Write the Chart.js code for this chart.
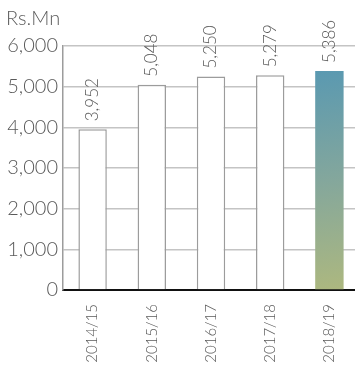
<!DOCTYPE html>
<html>
<head>
<meta charset="utf-8">
<script src="https://cdn.jsdelivr.net/npm/chart.js@4"></script>
<style>
  html, body { margin: 0; padding: 0; background: #fff; overflow: hidden; }
  #wrap { width: 360px; height: 365px; }
</style>
</head>
<body>
<div id="wrap"><canvas id="Revenue"></canvas></div>
<script>
const years = ['2014/15', '2015/16', '2016/17', '2017/18', '2018/19']
const values = [3952, 5048, 5250, 5279, 5386]
const yTicks = [0, 1000, 2000, 3000, 4000, 5000, 6000]
const unitLabel = 'Rs.Mn'

const FONT = 'Lato'
const TEXT = '#5a5a5a'

function barFill(context) {
    const i = context.dataIndex
    if (i !== values.length - 1) return '#ffffff'
    const chart = context.chart
    const sx = chart.scales.x, sy = chart.scales.y
    if (!sx || !sy || !chart.chartArea) return '#7fa8a0'
    const cx = sx.getPixelForValue(i)
    const half = sx.width / values.length * 0.48 / 2
    const top = sy.getPixelForValue(values[i])
    const bottom = sy.getPixelForValue(0)
    const g = chart.ctx.createLinearGradient(cx - half, top, cx + half, bottom)
    g.addColorStop(0, '#5a99b1')
    g.addColorStop(0.5, '#84a79c')
    g.addColorStop(1, '#adb87f')
    return g
}

// value labels above the bars, rotated
const valueLabels = {
    id: 'valueLabels',
    afterDatasetsDraw(chart) {
        const ctx = chart.ctx
        const meta = chart.getDatasetMeta(0)
        ctx.save()
        ctx.font = '300 17px ' + FONT
        ctx.fillStyle = TEXT
        ctx.textAlign = 'left'
        ctx.textBaseline = 'middle'
        meta.data.forEach((bar, i) => {
            ctx.save()
            ctx.translate(bar.x, bar.y - 8)
            ctx.rotate(-Math.PI / 2)
            ctx.fillText(values[i].toLocaleString('en-US'), 0, 0)
            ctx.restore()
        })
        // unit label
        ctx.font = '300 20px ' + FONT
        ctx.textBaseline = 'middle'
        ctx.fillText(unitLabel, 6, 19)
        ctx.restore()
    }
}

const config = {
    type: 'bar',
    data: {
        labels: years,
        datasets: [{
            data: values,
            backgroundColor: barFill,
            borderColor: values.map((v, i) => i === values.length - 1 ? 'rgba(0,0,0,0)' : '#9c9c9c'),
            borderWidth: values.map((v, i) => i === values.length - 1 ? 0 : 1.5),
            barPercentage: 0.48,
            categoryPercentage: 1
        }]
    },
    options: {
        responsive: true,
        maintainAspectRatio: false,
        animation: false,
        layout: { padding: { top: 46, right: 1, left: 0, bottom: 0 } },
        plugins: { legend: { display: false }, tooltip: { enabled: false } },
        scales: {
            x: {
                grid: { display: false },
                border: { display: true, color: '#111', width: 2 },
                ticks: {
                    minRotation: 90, maxRotation: 90,
                    padding: 6,
                    color: TEXT,
                    font: { family: FONT, size: 15, weight: '300' }
                },
                afterFit(scale) { scale.height = 75 }
            },
            y: {
                min: 0, max: 6000,
                afterBuildTicks(scale) { scale.ticks = yTicks.map(v => ({ value: v })) },
                grid: { color: '#c4c4c4', lineWidth: 1.5, drawTicks: false },
                border: { display: true, color: '#9c9c9c', width: 1.5 },
                ticks: {
                    padding: 5,
                    color: TEXT,
                    font: { family: FONT, size: 20, weight: '300' },
                    callback: v => v.toLocaleString('en-US')
                },
                afterFit(scale) { scale.width = 63 }
            }
        }
    },
    plugins: [valueLabels]
}

new Chart(document.getElementById('Revenue'), config)
</script>
</body>
</html>
